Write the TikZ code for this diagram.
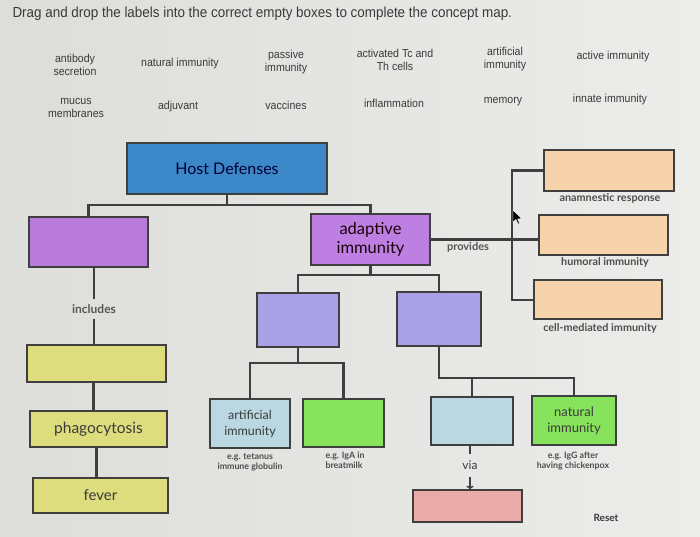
\documentclass[tikz,border=0pt]{standalone}
\usepackage{fontspec}
\setmainfont{Lato}
\newfontfamily\lblfont{Liberation Sans}[FakeStretch=0.92]
\usetikzlibrary{arrows.meta}
\definecolor{bgc}{HTML}{E8E8E6}
\definecolor{bgl}{HTML}{DDDDDA}
\definecolor{bgr}{HTML}{ECECEA}
\definecolor{hostc}{HTML}{3C87C7}
\definecolor{purpc}{HTML}{B87BD9}
\definecolor{adapc}{HTML}{BD80E2}
\definecolor{lavc}{HTML}{A8A1E6}
\definecolor{yelc}{HTML}{DEDD7E}
\definecolor{lbluc}{HTML}{B9D8E1}
\definecolor{grnc}{HTML}{88E35C}
\definecolor{pinkc}{HTML}{E9AAA8}
\definecolor{peachc}{HTML}{F6D3AB}
\definecolor{txtc}{HTML}{3A3A3A}
\definecolor{linec}{HTML}{3F3F3F}
\tikzset{
  box/.style={draw=linec, line width=1.4pt, inner sep=0pt, align=center, text=txtc},
  conn/.style={draw=linec, line width=2.4pt},
  lbl/.style={font=\lblfont\fontsize{11.5}{13}\selectfont, text=txtc, align=center},
  captxt/.style={font=\fontsize{10.8}{12}\selectfont\bfseries, text=txtc!90},
  smalltxt/.style={font=\fontsize{8.8}{10}\selectfont\bfseries, text=txtc!90, align=center},
}
\begin{document}
\begin{tikzpicture}[x=1pt,y=-1pt]
\shade[left color=bgl, right color=bgr] (0,0) rectangle (700,537);
\useasboundingbox (0,0) rectangle (700,537);
% title
\node[anchor=west, font=\lblfont\fontsize{14.6}{16}\selectfont, text=txtc] (title) at (9,14) {Drag and drop the labels into the correct empty boxes to complete the concept map.};
% label bank
\node[lbl] (l1) at (75,65) {antibody\\secretion};
\node[lbl] (l2) at (180,64) {natural immunity};
\node[lbl] (l3) at (286,62) {passive\\immunity};
\node[lbl] (l4) at (395,60) {activated Tc and\\Th cells};
\node[lbl] (l5) at (505,59) {artificial\\immunity};
\node[lbl] (l6) at (613,57) {active immunity};
\node[lbl] (l7) at (76,108) {mucus\\membranes};
\node[lbl] (l8) at (178,107) {adjuvant};
\node[lbl] (l9) at (286,105) {vaccines};
\node[lbl] (l10) at (394,103) {inflammation};
\node[lbl] (l11) at (503,102) {memory};
\node[lbl] (l12) at (610,100) {innate immunity};
% boxes
\node[box, fill=hostc, minimum width=200pt, minimum height=51pt, font=\fontsize{16}{18}\selectfont, text=black!80!blue] (host) at (227,168.5) {Host Defenses};
\node[box, fill=purpc, minimum width=119pt, minimum height=50pt] (lp) at (88.5,242) {};
\node[box, fill=yelc, minimum width=139pt, minimum height=37pt] (y1) at (96.5,363.5) {};
\node[box, fill=yelc, minimum width=137pt, minimum height=36pt, font=\fontsize{15.5}{17}\selectfont] (phago) at (98.5,429) {phagocytosis};
\node[box, fill=yelc, minimum width=135pt, minimum height=35pt, font=\fontsize{15}{17}\selectfont] (fever) at (100.5,495.5) {fever};
\node[box, fill=adapc, minimum width=119pt, minimum height=51pt, font=\fontsize{16.5}{19}\selectfont, text=black!85!purple] (adapt) at (370.5,239.5) {adaptive\\immunity};
\node[box, fill=lavc, minimum width=82pt, minimum height=54pt] (lavL) at (298,320) {};
\node[box, fill=lavc, minimum width=84pt, minimum height=54pt] (lavR) at (439,319) {};
\node[box, fill=lbluc, minimum width=80pt, minimum height=49pt, font=\fontsize{12.5}{16}\selectfont] (artif) at (250,423.5) {artificial\\immunity};
\node[box, fill=grnc, minimum width=81pt, minimum height=48pt] (grnL) at (343.5,423) {};
\node[box, fill=lbluc, minimum width=82pt, minimum height=48pt] (bluR) at (472,421) {};
\node[box, fill=grnc, minimum width=84pt, minimum height=49pt, font=\fontsize{13}{16}\selectfont] (natural) at (574,420.5) {natural\\immunity};
\node[box, fill=pinkc, minimum width=109pt, minimum height=32pt] (pink) at (467.5,506) {};
\node[box, fill=peachc, minimum width=130pt, minimum height=41pt] (or1) at (609,170.5) {};
\node[box, fill=peachc, minimum width=129pt, minimum height=40pt] (or2) at (603.5,235) {};
\node[box, fill=peachc, minimum width=128pt, minimum height=39pt] (or3) at (598,299.5) {};
% captions
\node[captxt] (c1) at (610,198) {anamnestic response};
\node[captxt] (c2) at (605,262) {humoral immunity};
\node[captxt] (c3) at (600,328) {cell-mediated immunity};
\node[smalltxt] (s1) at (250,462) {e.g. tetanus\\immune globulin};
\node[smalltxt, align=left, anchor=west] (s2) at (322,460) {e.g. IgA in\\breatmilk};
\node[smalltxt] (s3) at (573,461) {e.g. IgG after\\having chickenpox};
\node[font=\fontsize{10}{12}\selectfont\bfseries, text=txtc] (reset) at (606,518) {Reset};
% connectors
\coordinate (j1) at (227,205);
\draw[conn] (host.south) -- (j1);
\draw[conn] (lp.north) |- (j1) -| (adapt.north);
\node[font=\fontsize{12}{14}\selectfont\bfseries, text=txtc!85] (incl) at (94,309) {includes};
\draw[conn] (lp.south -| incl.north) -- ([yshift=2pt]incl.north);
\draw[conn] ([yshift=-2pt]incl.south) -- (incl.south |- y1.north);
\draw[conn] ([xshift=-3pt]y1.south) -- ([xshift=-3pt]y1.south |- phago.north);
\draw[conn] ([xshift=-2pt]phago.south) -- ([xshift=-2pt]phago.south |- fever.north);
\coordinate (j2) at (370.5,275);
\draw[conn] (adapt.south) -- (j2);
\draw[conn] (lavL.north) |- (j2) -| (lavR.north);
\coordinate (j3) at (298,363);
\draw[conn] (lavL.south) -- (j3);
\draw[conn] (artif.north) |- (j3) -| (grnL.north);
\coordinate (j4) at (439,378);
\draw[conn] (lavR.south) -- (j4) -| (natural.north);
\draw[conn] (bluR.north) -- (bluR.north |- j4);
\node[font=\fontsize{12}{14}\selectfont, text=txtc] (via) at (470,465) {via};
\draw[conn] (bluR.south -| via.north) -- ([yshift=3pt]via.north);
\draw[draw=linec, line width=1.5pt, -{To[length=3.5pt,width=7pt]}] ([yshift=-4pt]via.south) -- (via.south |- pink.north);
\coordinate (vb) at (512,300);
\draw[conn] (adapt.east) -- (adapt.east -| or2.west);
\node[font=\fontsize{11}{13}\selectfont\bfseries, text=txtc!85] (prov) at (468,247) {provides};
\draw[conn] (or1.west) -| (vb) -- (vb -| or3.west);
% mouse cursor
\path[fill=black, draw=white, line width=0.4pt] (513,210) -- (513,222) -- (516,219.5) -- (518,224) -- (519.5,223.3) -- (517.6,219) -- (521.5,218.6) -- cycle;
\end{tikzpicture}
\end{document}
